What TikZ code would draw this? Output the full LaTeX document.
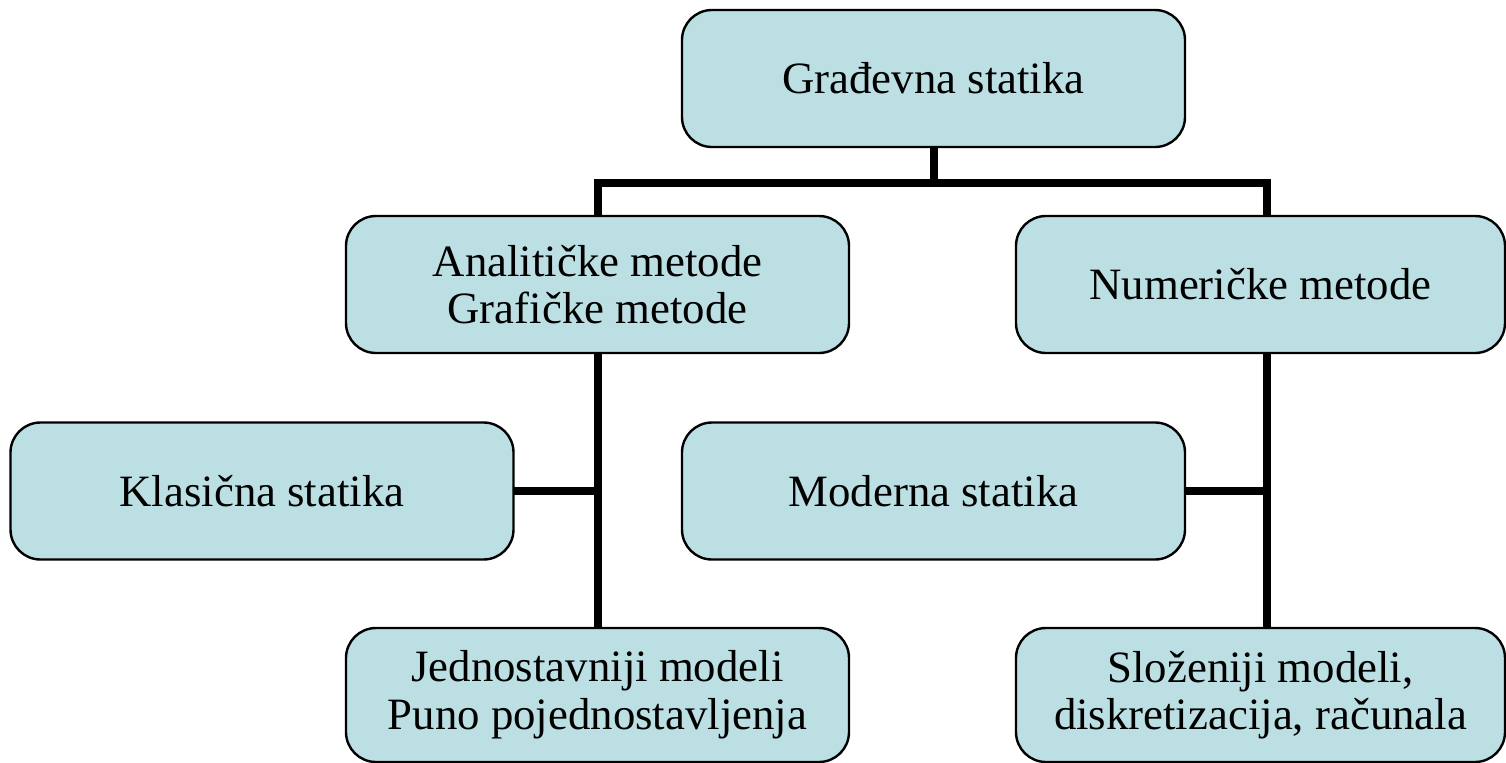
\documentclass[tikz,border=0pt]{standalone}
\usepackage{fontspec}
\setmainfont{Liberation Serif}
\usepackage{xcolor}
\usetikzlibrary{backgrounds}
\definecolor{okvirfill}{HTML}{BBDFE3}
\definecolor{okvirink}{HTML}{000000}

\begin{document}
\begin{tikzpicture}[x=0.5pt, y=-0.5pt,
                    okvir/.style={draw=okvirink, line width=1.2pt, fill=okvirfill,
                                  rounded corners=15pt, inner sep=0pt, align=center,
                                  minimum width=251.5pt, minimum height=68.5pt,
                                  font=\fontsize{22.4}{23.8}\selectfont},
                    veza/.style={okvirink, line width=4pt, line cap=rect}]

\useasboundingbox (0,0) rectangle (1506,762);
\clip (0,0) rectangle (1506,762);

%% ==== okviri ========================================================
\node[okvir] (gradjevna) at (933.5,78.5) {Građevna statika};

\node[okvir] (analiticke) at (597.5,284.5) {Analitičke metode\\Grafičke metode};
\node[okvir, minimum width=244.5pt] (numericke) at (1260.5,284.5) {Numeričke metode};

\node[okvir] (klasicna) at (262,491) {Klasična statika};
\node[okvir] (moderna)  at (933.5,491) {Moderna statika};

\node[okvir, minimum height=67pt] (jednostavniji) at (597.5,695)
  {Jednostavniji modeli\\Puno pojednostavljenja};
\node[okvir, minimum width=244.5pt, minimum height=67pt] (slozeniji) at (1260.5,695)
  {Složeniji modeli,\\diskretizacija, računala};

%% ==== veze (ispod okvira) ===========================================
\coordinate (lbus) at (598,183);
\coordinate (rbus) at (1267,183);

\begin{scope}[on background layer]
  \draw[veza] (gradjevna.south) -- (gradjevna.south |- lbus);
  \draw[veza] (lbus |- analiticke.north) -- (lbus) -- (rbus) -- (rbus |- numericke.north);

  %% lijeva grana
  \draw[veza] (lbus |- analiticke.south) -- (lbus |- jednostavniji.north);
  \draw[veza] (klasicna.east) -- (klasicna.east -| lbus);

  %% desna grana
  \draw[veza] (rbus |- numericke.south) -- (rbus |- slozeniji.north);
  \draw[veza] (moderna.east) -- (moderna.east -| rbus);
\end{scope}

\end{tikzpicture}
\end{document}
